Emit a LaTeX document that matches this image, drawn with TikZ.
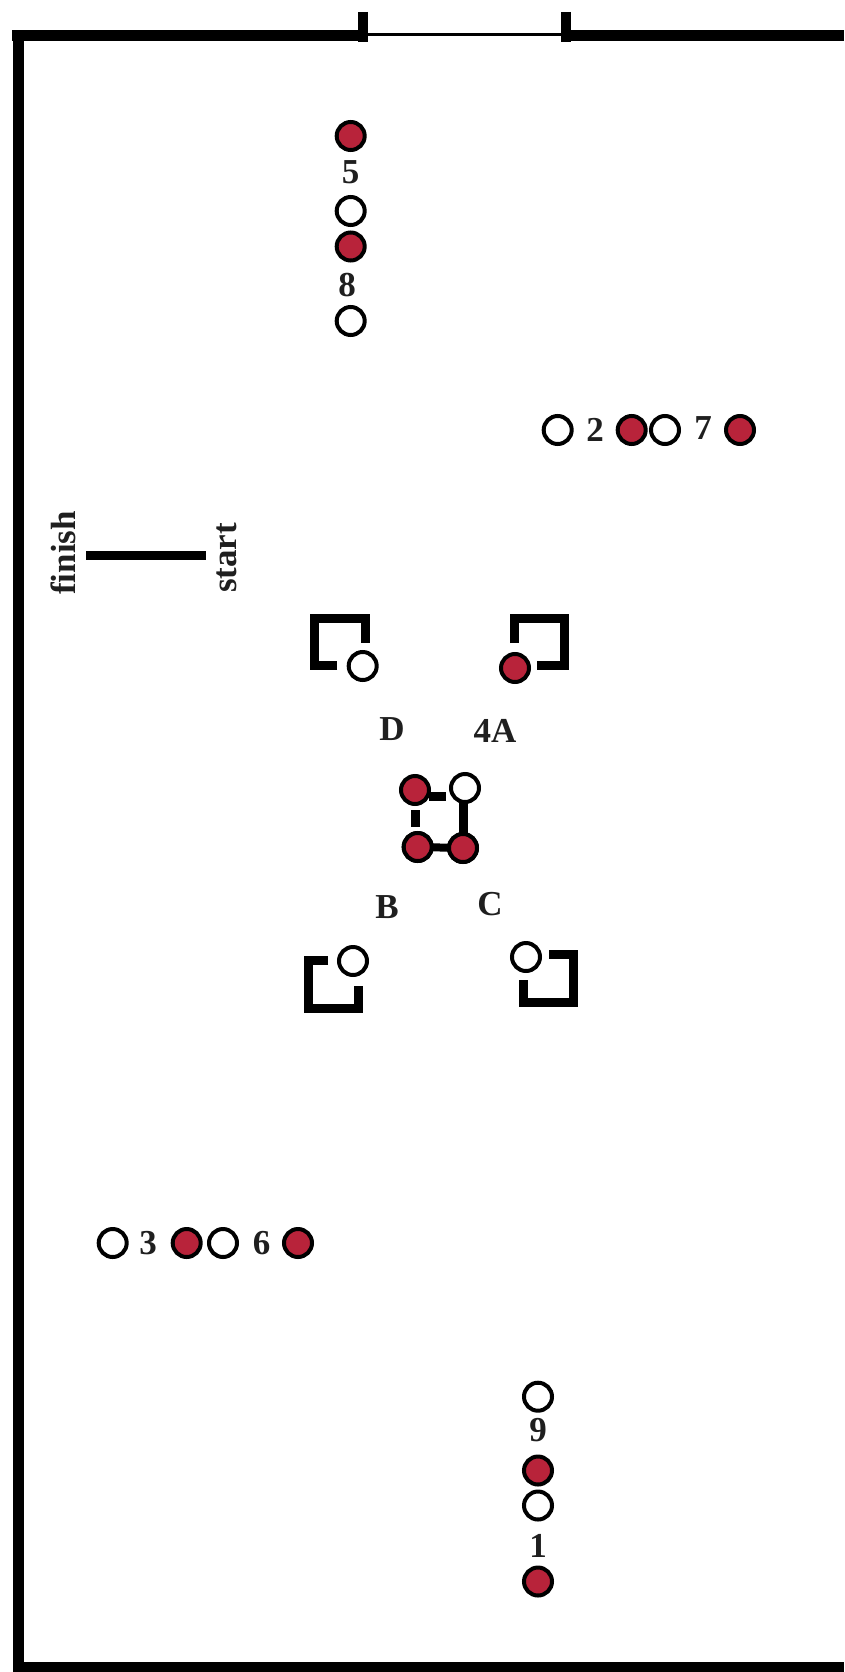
\documentclass[tikz,border=0pt]{standalone}
\usepackage{fontspec}
\setmainfont{Liberation Serif}
\definecolor{conered}{HTML}{B8233A}
\tikzset{
  wall/.style={line width=11pt,line cap=butt,black},
  bracket/.style={line width=9pt,line cap=butt,line join=miter,black},
  link/.style={line width=9pt,line cap=butt,black},
  cone/.style={circle,draw=black,line width=4pt,minimum size=28pt,inner sep=0pt,outer sep=0pt},
  redcone/.style={cone,fill=conered},
  whitecone/.style={cone,fill=white},
  lab/.style={inner sep=0pt,font=\bfseries\fontsize{35}{35}\selectfont,text=black!88}
}
\begin{document}
\begin{tikzpicture}[x=1pt,y=-1pt]
\useasboundingbox (0,0) rectangle (844,1672);
\fill[white] (0,0) rectangle (844,1672);
% walls
\draw[wall,line join=miter] (368,36) -- (13,36) -- (18.5,36) -- (18.5,1667) -- (844,1667);
\draw[wall] (12,36) -- (368,36);
\draw[wall] (561,36) -- (844,36);
\draw[line width=3.5pt,black] (368,34.5) -- (561,34.5);
\draw[line width=10pt,black] (363,12) -- (363,42);
\draw[line width=10pt,black] (565.5,12) -- (565.5,42);
% start / finish line
\draw[line width=9.5pt,black] (86,555.5) -- (206,555.5);
\node[lab,rotate=90] (finish) at (63,553) {finish};
\node[lab,rotate=90] (start) at (227,558) {start};
% top column
\node[redcone] (a1) at (350.7,136) {};
\node[lab] (n5) at (350.7,172) {5};
\node[whitecone] (a2) at (350.7,211) {};
\node[redcone] (a3) at (350.7,246.5) {};
\node[lab] (n8) at (347,285) {8};
\node[whitecone] (a4) at (350.7,321) {};
% right row
\node[whitecone] (b1) at (557.7,430) {};
\node[lab] (n2) at (595,430) {2};
\node[redcone] (b2) at (631.7,430) {};
\node[whitecone] (b3) at (665,430) {};
\node[lab] (n7) at (703,428) {7};
\node[redcone] (b4) at (740,430) {};
% left row
\node[whitecone] (d1) at (112.7,1243) {};
\node[lab] (n3) at (148,1243) {3};
\node[redcone] (d2) at (186.7,1243) {};
\node[whitecone] (d3) at (223,1243) {};
\node[lab] (n6) at (261.7,1243) {6};
\node[redcone] (d4) at (298,1243) {};
% bottom column
\node[whitecone] (e1) at (538,1396.7) {};
\node[lab] (n9) at (538,1430) {9};
\node[redcone] (e2) at (538,1470.5) {};
\node[whitecone] (e3) at (538,1505.5) {};
\node[lab] (n1) at (538,1546) {1};
\node[redcone] (e4) at (538,1581.5) {};
% brackets
\draw[bracket] (337,665.5) -- (314.5,665.5) -- (314.5,618.5) -- (365.5,618.5) -- (365.5,643);
\draw[bracket] (514.5,643) -- (514.5,618.5) -- (564.5,618.5) -- (564.5,665.5) -- (537,665.5);
\draw[bracket] (328,960.5) -- (308.5,960.5) -- (308.5,1008.5) -- (358.5,1008.5) -- (358.5,986);
\draw[bracket] (549,954.5) -- (573.5,954.5) -- (573.5,1002.5) -- (523.5,1002.5) -- (523.5,980);
% bracket cones
\node[whitecone] (fd) at (362.7,666) {};
\node[redcone] (fa) at (515,668) {};
\node[whitecone] (fb) at (353,961) {};
\node[whitecone] (fc) at (526,957) {};
% centre labels
\node[lab] (lD) at (392,729) {D};
\node[lab] (l4A) at (495,731) {4A};
\node[lab] (lB) at (387,907) {B};
\node[lab] (lC) at (490,904) {C};
% centre square
\node[redcone] (c1) at (415,790) {};
\node[whitecone] (c2) at (465,788) {};
\node[redcone] (c3) at (417.7,847) {};
\node[redcone] (c4) at (463,848) {};
\draw[link] ([yshift=-6pt]c1.east) -- ([yshift=-8pt,xshift=-5pt]c2.west);
\draw[link,shorten <=6pt,shorten >=6pt] (c1.south) -- (c1.south |- c3.north);
\draw[link] (c4.north) -- (c4.north |- c2.south);
\draw[link,line width=8pt] (c3) -- (c4);
\node[redcone] at (c3) {};
\node[redcone] at (c4) {};
\end{tikzpicture}
\end{document}
